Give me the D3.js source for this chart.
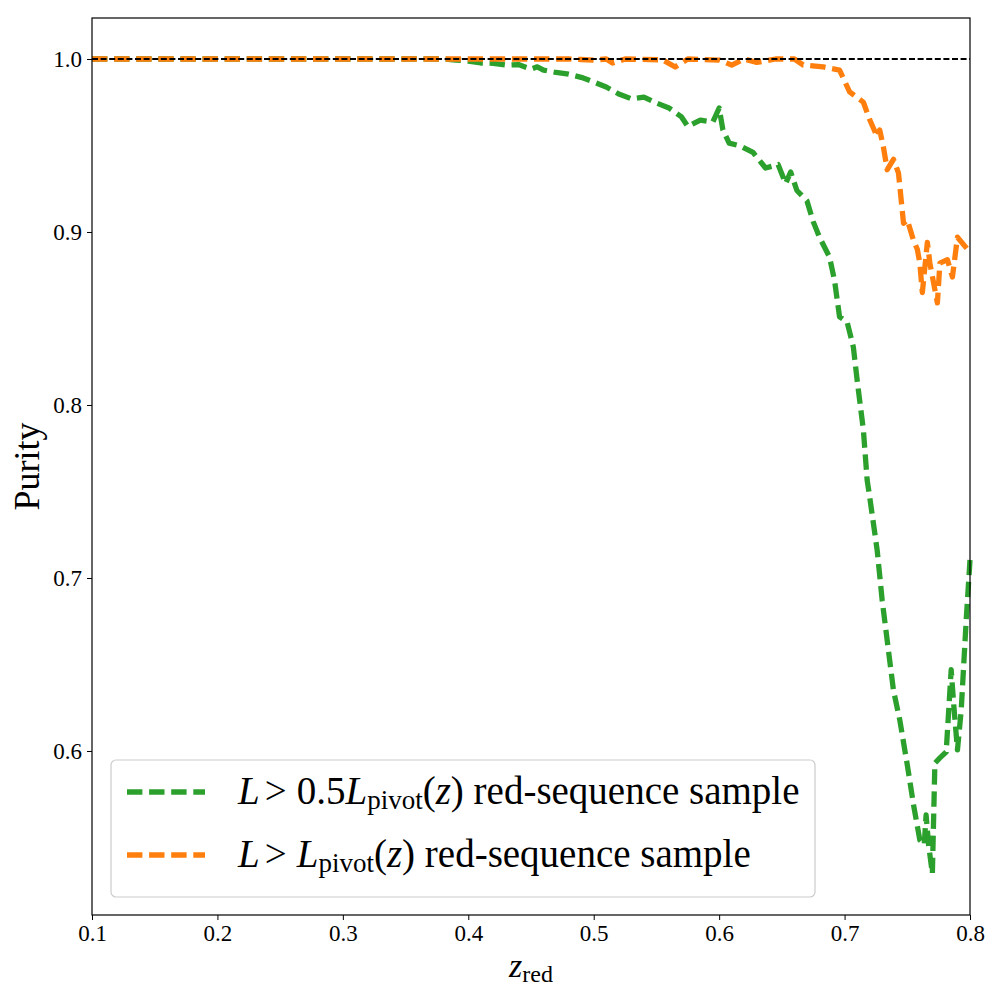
<!DOCTYPE html>
<html>
<head>
<meta charset="utf-8">
<script src="https://cdn.jsdelivr.net/npm/d3@7"></script>
<style>
  body { margin: 0; background: #fff; }
  text { font-family: "Liberation Serif", "DejaVu Serif", serif; }
</style>
</head>
<body>
<div id="chart"></div>
<script>
// redshift samples and purity
var greenZ = [0.10, 0.15, 0.20, 0.25, 0.30, 0.35, 0.38, 0.39, 0.40, 0.41, 0.42, 0.43, 0.44, 0.45,
  0.455, 0.46, 0.47, 0.48, 0.49, 0.50, 0.51, 0.52, 0.53, 0.54, 0.55, 0.56, 0.57, 0.575, 0.585, 0.595,
  0.600, 0.603, 0.608, 0.617, 0.627, 0.637, 0.647, 0.653, 0.657, 0.662, 0.670, 0.675, 0.680,
  0.688, 0.692, 0.696, 0.702, 0.707, 0.710, 0.715, 0.718, 0.720, 0.726, 0.730, 0.735, 0.739,
  0.744, 0.750, 0.755, 0.760, 0.7635, 0.765, 0.767, 0.770, 0.772, 0.776, 0.781, 0.785, 0.787,
  0.790, 0.793, 0.797, 0.800];
var greenP = [1.0, 1.0, 1.0, 1.0, 1.0, 1.0, 1.0, 0.9994, 0.9988, 0.9977, 0.9975, 0.9965, 0.9968, 0.9942,
  0.9955, 0.9936, 0.9922, 0.9912, 0.9894, 0.9867, 0.9838, 0.9798, 0.977, 0.978, 0.9746, 0.9717, 0.9665, 0.961, 0.9647, 0.9636,
  0.9717, 0.959, 0.9514, 0.9497, 0.946, 0.937, 0.939, 0.928, 0.9347, 0.924, 0.918, 0.906, 0.897,
  0.8855, 0.872, 0.851, 0.848, 0.8335, 0.8145, 0.7855, 0.7566, 0.747, 0.716, 0.687, 0.658, 0.635,
  0.618, 0.592, 0.5688, 0.5486, 0.5457, 0.563, 0.5457, 0.529, 0.593, 0.596, 0.5994, 0.647, 0.627,
  0.6006, 0.6237, 0.676, 0.7104];

var orangeZ = [0.10, 0.48, 0.49, 0.50, 0.51, 0.515, 0.525, 0.555, 0.565, 0.575, 0.60, 0.61, 0.62,
  0.63, 0.645, 0.66, 0.667, 0.683, 0.696, 0.704, 0.715, 0.720, 0.726, 0.728, 0.731, 0.734, 0.739,
  0.743, 0.747, 0.750, 0.755, 0.758, 0.760, 0.762, 0.766, 0.768, 0.774, 0.776, 0.782, 0.786,
  0.790, 0.798, 0.800];
var orangeP = [1.0, 1.0, 0.9997, 0.9994, 1.0, 0.9977, 1.0, 0.9995, 0.9954, 1.0, 0.9994, 0.9965, 1.0,
  0.998, 1.0, 1.0, 0.9965, 0.9954, 0.9936, 0.981, 0.975, 0.965, 0.955, 0.959, 0.949, 0.936, 0.942,
  0.934, 0.905, 0.907, 0.895, 0.890, 0.882, 0.865, 0.894, 0.882, 0.859, 0.882, 0.884, 0.874,
  0.897, 0.890, 0.891];

var xTicks = [0.1, 0.2, 0.3, 0.4, 0.5, 0.6, 0.7, 0.8];
var yTicks = [0.6, 0.7, 0.8, 0.9, 1.0];

var W = 1000, H = 1000;
var margin = {left: 92, right: 30, top: 18, bottom: 85};
var dash = "15.4,6.7";

var svg = d3.select("#chart").append("svg")
    .attr("width", W)
    .attr("height", H);

var x = d3.scaleLinear().domain([0.1, 0.8]).range([margin.left, W - margin.right]);
var y = d3.scaleLinear().domain([0.5052, 1.0237]).range([H - margin.bottom, margin.top]);

var line = d3.line()
    .x(function(d) { return x(d[0]); })
    .y(function(d) { return y(d[1]); });

var plot = svg.append("g");

// green first, orange over it, reference line last
plot.append("path")
    .datum(d3.zip(greenZ, greenP))
    .attr("d", line)
    .attr("fill", "none")
    .attr("stroke", "#2ca02c")
    .attr("stroke-width", 5.3)
    .attr("stroke-linejoin", "round")
    .attr("stroke-dasharray", dash);

plot.append("path")
    .datum(d3.zip(orangeZ, orangeP))
    .attr("d", line)
    .attr("fill", "none")
    .attr("stroke", "#ff7f0e")
    .attr("stroke-width", 5.3)
    .attr("stroke-linejoin", "round")
    .attr("stroke-dasharray", dash);

plot.append("line")
    .attr("x1", x(0.1)).attr("x2", x(0.8))
    .attr("y1", y(1.0)).attr("y2", y(1.0))
    .attr("stroke", "#000")
    .attr("stroke-width", 1.8)
    .attr("stroke-dasharray", "6,2.6");

// axes
var xAxis = d3.axisBottom(x).tickValues(xTicks).tickSize(5).tickPadding(5)
    .tickFormat(d3.format(".1f"));
var yAxis = d3.axisLeft(y).tickValues(yTicks).tickSize(5).tickPadding(5)
    .tickFormat(d3.format(".1f"));

var gx = svg.append("g")
    .attr("transform", "translate(0," + (H - margin.bottom) + ")")
    .call(xAxis);
var gy = svg.append("g")
    .attr("transform", "translate(" + margin.left + ",0)")
    .call(yAxis);

[gx, gy].forEach(function(g) {
  g.select(".domain").remove();
  g.selectAll(".tick line").attr("stroke", "#000").attr("stroke-width", 1);
  g.selectAll(".tick text")
    .attr("fill", "#000")
    .style("font-family", "'Liberation Serif', serif")
    .style("font-size", "23px");
});

// frame
svg.append("rect")
    .attr("x", margin.left).attr("y", margin.top)
    .attr("width", W - margin.left - margin.right)
    .attr("height", H - margin.top - margin.bottom)
    .attr("fill", "none")
    .attr("stroke", "#000")
    .attr("stroke-width", 1.2);

// axis labels
var xl = svg.append("text")
    .attr("x", (margin.left + W - margin.right) / 2)
    .attr("y", 977)
    .attr("text-anchor", "middle")
    .style("font-size", "34px");
xl.append("tspan").style("font-style", "italic").text("z");
xl.append("tspan").attr("dy", 5).style("font-size", "24px").text("red");

svg.append("text")
    .attr("transform", "translate(39," + (margin.top + H - margin.bottom) / 2 + ") rotate(-90)")
    .attr("text-anchor", "middle")
    .style("font-size", "36px")
    .text("Purity");

// legend
var legend = svg.append("g");
legend.append("rect")
    .attr("x", 111).attr("y", 760)
    .attr("width", 704).attr("height", 137)
    .attr("rx", 5)
    .attr("fill", "#fff")
    .attr("fill-opacity", 0.8)
    .attr("stroke", "#cccccc")
    .attr("stroke-width", 1.2);

var entries = [
  {color: "#2ca02c", y: 792, factor: "0.5"},
  {color: "#ff7f0e", y: 855, factor: ""}
];

entries.forEach(function(e) {
  legend.append("line")
    .attr("x1", 127).attr("x2", 205)
    .attr("y1", e.y).attr("y2", e.y)
    .attr("stroke", e.color)
    .attr("stroke-width", 5.3)
    .attr("stroke-dasharray", dash);

  var t = legend.append("text")
    .attr("x", 238)
    .attr("y", e.y + 12)
    .style("font-size", "39px");
  t.append("tspan").style("font-style", "italic").text("L");
  t.append("tspan").attr("dx", 5).text(">");
  if (e.factor) {
    t.append("tspan").attr("dx", 10).text(e.factor);
    t.append("tspan").style("font-style", "italic").text("L");
  } else {
    t.append("tspan").attr("dx", 10).style("font-style", "italic").text("L");
  }
  t.append("tspan").attr("dy", 5).style("font-size", "27px").text("pivot");
  t.append("tspan").attr("dy", -5).text("(");
  t.append("tspan").style("font-style", "italic").text("z");
  t.append("tspan").text(") red-sequence sample");
});
</script>
</body>
</html>
